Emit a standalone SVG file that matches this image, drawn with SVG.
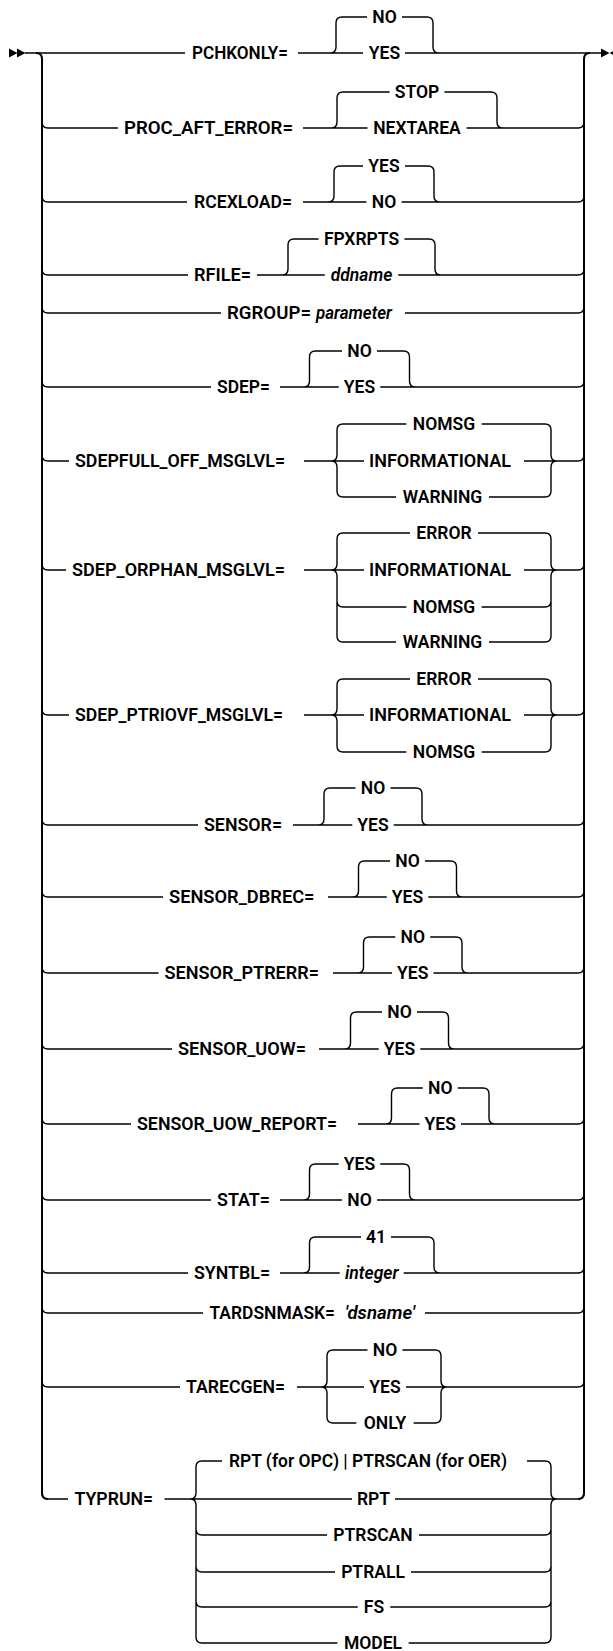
<svg xmlns="http://www.w3.org/2000/svg" width="613" height="1651" viewBox="0 0 613 1651">
<style>
.c{fill:none;stroke:#000;stroke-width:1.4}
.o{fill:none;stroke:#000;stroke-width:2}
text{font-family:Roboto,"Liberation Sans",sans-serif;font-weight:600;font-size:17.5px;fill:#000}
.m{text-anchor:middle}
.i{font-style:italic}
.a{fill:#000;stroke:none}
</style>
<rect width="613" height="1651" fill="#fff"/>
<g id="connectors">
<path class="o" d="M36,53 Q42,53 42,59 V1493 Q42,1499 48,1499"/>
<path class="o" d="M578,1499 Q584,1499 584,1493 V59 Q584,53 590,53"/>
<path class="c" d="M25,53 H185 M298,53 H363 M330,53 Q336,53 336,47 V23 Q336,17 342,17 H367 M402,17 H427 Q433,17 433,23 V47 Q433,53 439,53 M405,53 H601"/>
<path class="c" d="M42,122 Q42,128 48,128 H118 M303,128 H367.5 M331,128 Q337,128 337,122 V98 Q337,92 343,92 H389.6 M444.4,92 H491 Q497,92 497,98 V122 Q497,128 503,128 M466.5,128 H578 Q584,128 584,122"/>
<path class="c" d="M42,196 Q42,202 48,202 H187 M303,202 H366.5 M328,202 Q334,202 334,196 V172 Q334,166 340,166 H363 M405,166 H428 Q434,166 434,172 V196 Q434,202 440,202 M401.5,202 H578 Q584,202 584,196"/>
<path class="c" d="M42,269 Q42,275 48,275 H188 M257,275 H324.75 M282,275 Q288,275 288,269 V245 Q288,239 294,239 H318.6 M404.4,239 H429 Q435,239 435,245 V269 Q435,275 441,275 M398.25,275 H578 Q584,275 584,269"/>
<path class="c" d="M42,307 Q42,313 48,313 H221 M405,313 H578 Q584,313 584,307"/>
<path class="c" d="M42,381 Q42,387 48,387 H211 M280,387 H338.75 M303.5,387 Q309.5,387 309.5,381 V357 Q309.5,351 315.5,351 H342 M377,351 H403.5 Q409.5,351 409.5,357 V381 Q409.5,387 415.5,387 M380.25,387 H578 Q584,387 584,381"/>
<path class="c" d="M42,455 Q42,461 48,461 H69 M304,461 H364 M524,461 H578 Q584,461 584,455 M343,424 Q337,424 337,430 V455 Q337,461 331,461 Q337,461 337,467 V491 Q337,497 343,497 M545,424 Q551,424 551,430 V455 Q551,461 557,461 Q551,461 551,467 V491 Q551,497 545,497 M343,424 H406.35 M481.65,424 H545 M343,497 H396 M489,497 H545"/>
<path class="c" d="M42,564 Q42,570 48,570 H66 M304,570 H364 M524,570 H578 Q584,570 584,564 M343,533 Q337,533 337,539 V564 Q337,570 331,570 Q337,570 337,576 V636 Q337,642 343,642 M337,601 Q337,607 343,607 M545,533 Q551,533 551,539 V564 Q551,570 557,570 Q551,570 551,576 V636 Q551,642 545,642 M545,607 Q551,607 551,601 M343,533 H410 M478,533 H545 M343,607 H406.35 M481.65,607 H545 M343,642 H396 M489,642 H545"/>
<path class="c" d="M42,709 Q42,715 48,715 H69 M304,715 H364 M524,715 H578 Q584,715 584,709 M343,679 Q337,679 337,685 V709 Q337,715 331,715 Q337,715 337,721 V746 Q337,752 343,752 M545,679 Q551,679 551,685 V709 Q551,715 557,715 Q551,715 551,721 V746 Q551,752 545,752 M343,679 H410 M478,679 H545 M343,752 H406.35 M481.65,752 H545"/>
<path class="c" d="M42,819 Q42,825 48,825 H198 M293,825 H352.25 M318,825 Q324,825 324,819 V794 Q324,788 330,788 H355.5 M390.5,788 H416 Q422,788 422,794 V819 Q422,825 428,825 M393.75,825 H578 Q584,825 584,819"/>
<path class="c" d="M42,891 Q42,897 48,897 H163 M328,897 H386.75 M352.5,897 Q358.5,897 358.5,891 V867 Q358.5,861 364.5,861 H390 M425,861 H450.5 Q456.5,861 456.5,867 V891 Q456.5,897 462.5,897 M428.25,897 H578 Q584,897 584,891"/>
<path class="c" d="M42,967 Q42,973 48,973 H158.5 M333,973 H392 M357.5,973 Q363.5,973 363.5,967 V943 Q363.5,937 369.5,937 H395.25 M430.25,937 H456 Q462,937 462,943 V967 Q462,973 468,973 M433.5,973 H578 Q584,973 584,967"/>
<path class="c" d="M42,1043 Q42,1049 48,1049 H172 M319,1049 H378.75 M344.5,1049 Q350.5,1049 350.5,1043 V1018 Q350.5,1012 356.5,1012 H382 M417,1012 H442.5 Q448.5,1012 448.5,1018 V1043 Q448.5,1049 454.5,1049 M420.25,1049 H578 Q584,1049 584,1043"/>
<path class="c" d="M42,1118 Q42,1124 48,1124 H131 M358,1124 H419.5 M385.5,1124 Q391.5,1124 391.5,1118 V1094 Q391.5,1088 397.5,1088 H422.75 M457.75,1088 H483 Q489,1088 489,1094 V1118 Q489,1124 495,1124 M461,1124 H578 Q584,1124 584,1118"/>
<path class="c" d="M42,1194 Q42,1200 48,1200 H211 M280,1200 H342 M303.5,1200 Q309.5,1200 309.5,1194 V1170 Q309.5,1164 315.5,1164 H338.75 M380.25,1164 H403.5 Q409.5,1164 409.5,1170 V1194 Q409.5,1200 415.5,1200 M377,1200 H578 Q584,1200 584,1194"/>
<path class="c" d="M42,1267 Q42,1273 48,1273 H188 M280,1273 H339.75 M303.5,1273 Q309.5,1273 309.5,1267 V1243 Q309.5,1237 315.5,1237 H361 M391,1237 H428 Q434,1237 434,1243 V1267 Q434,1273 440,1273 M403.75,1273 H578 Q584,1273 584,1267"/>
<path class="c" d="M42,1307 Q42,1313 48,1313 H203 M425,1313 H578 Q584,1313 584,1307"/>
<path class="c" d="M42,1381 Q42,1387 48,1387 H180 M297,1387 H364 M333,1350 Q327,1350 327,1356 V1381 Q327,1387 321,1387 Q327,1387 327,1393 V1417 Q327,1423 333,1423 M435,1350 Q441,1350 441,1356 V1381 Q441,1387 447,1387 Q441,1387 441,1393 V1417 Q441,1423 435,1423 M333,1350 H367.5 M402.5,1350 H435 M406,1387 H578 Q584,1387 584,1381 M333,1423 H356.35 M413.65,1423 H435"/>
<path class="c" d="M42,1493 Q42,1499 48,1499 H68 M164.5,1499 H352 M395,1499 H578 Q584,1499 584,1493 M202,1461 Q196,1461 196,1467 V1493 Q196,1499 190,1499 Q196,1499 196,1505 V1637 Q196,1643 202,1643 M196,1529 Q196,1535 202,1535 M196,1566 Q196,1572 202,1572 M196,1601 Q196,1607 202,1607 M545,1461 Q551,1461 551,1467 V1493 Q551,1499 557,1499 Q551,1499 551,1505 V1637 Q551,1643 545,1643 M545,1535 Q551,1535 551,1529 M545,1572 Q551,1572 551,1566 M545,1607 Q551,1607 551,1601 M202,1461 H222 M527,1461 H545 M202,1535 H327 M419,1535 H545 M202,1572 H335 M411,1572 H545 M202,1607 H357.75 M390.25,1607 H545 M202,1643 H337.35 M408.65,1643 H545"/>
</g>
<g id="start"><path class="a" d="M9,48.5 L17.5,53 L9,57.5 Z M17,48.5 L25.5,53 L17,57.5 Z"/></g>
<g id="end"><path class="a" d="M601,48.5 L609.5,53 L601,57.5 Z M618,48.5 L609.5,53 L618,57.5 Z"/></g>
<g id="pchkonly"><text x="192" y="59" textLength="96" lengthAdjust="spacingAndGlyphs">PCHKONLY=</text><text class="m" x="384.5" y="23">NO</text><text class="m" x="384.5" y="59">YES</text></g>
<g id="proc_aft_error"><text x="124" y="134" textLength="169" lengthAdjust="spacingAndGlyphs">PROC_AFT_ERROR=</text><text class="m" x="417" y="98">STOP</text><text class="m" x="417" y="134">NEXTAREA</text></g>
<g id="rcexload"><text x="194" y="208" textLength="98" lengthAdjust="spacingAndGlyphs">RCEXLOAD=</text><text class="m" x="384" y="172">YES</text><text class="m" x="384" y="208">NO</text></g>
<g id="rfile"><text x="194" y="281" textLength="57" lengthAdjust="spacingAndGlyphs">RFILE=</text><text class="m" x="361.5" y="245">FPXRPTS</text><text class="m i" x="361.5" y="281">ddname</text></g>
<g id="rgroup"><text x="227" y="319" textLength="84" lengthAdjust="spacingAndGlyphs">RGROUP=</text><text class="i" x="316" y="319" textLength="76" lengthAdjust="spacingAndGlyphs">parameter</text></g>
<g id="sdep"><text x="217" y="393" textLength="53" lengthAdjust="spacingAndGlyphs">SDEP=</text><text class="m" x="359.5" y="357">NO</text><text class="m" x="359.5" y="393">YES</text></g>
<g id="sdepfull_off_msglvl"><text x="75" y="467" textLength="210" lengthAdjust="spacingAndGlyphs">SDEPFULL_OFF_MSGLVL=</text><text class="m" x="444" y="430">NOMSG</text><text class="m" x="440" y="467" textLength="142" lengthAdjust="spacingAndGlyphs">INFORMATIONAL</text><text class="m" x="442.5" y="503">WARNING</text></g>
<g id="sdep_orphan_msglvl"><text x="72" y="576" textLength="213" lengthAdjust="spacingAndGlyphs">SDEP_ORPHAN_MSGLVL=</text><text class="m" x="444" y="539">ERROR</text><text class="m" x="440" y="576" textLength="142" lengthAdjust="spacingAndGlyphs">INFORMATIONAL</text><text class="m" x="444" y="613">NOMSG</text><text class="m" x="442.5" y="648">WARNING</text></g>
<g id="sdep_ptriovf_msglvl"><text x="75" y="721" textLength="208" lengthAdjust="spacingAndGlyphs">SDEP_PTRIOVF_MSGLVL=</text><text class="m" x="444" y="685">ERROR</text><text class="m" x="440" y="721" textLength="142" lengthAdjust="spacingAndGlyphs">INFORMATIONAL</text><text class="m" x="444" y="758">NOMSG</text></g>
<g id="sensor"><text x="204" y="831" textLength="78" lengthAdjust="spacingAndGlyphs">SENSOR=</text><text class="m" x="373" y="794">NO</text><text class="m" x="373" y="831">YES</text></g>
<g id="sensor_dbrec"><text x="169" y="903" textLength="145.5" lengthAdjust="spacingAndGlyphs">SENSOR_DBREC=</text><text class="m" x="407.5" y="867">NO</text><text class="m" x="407.5" y="903">YES</text></g>
<g id="sensor_ptrerr"><text x="164.5" y="979" textLength="154.5" lengthAdjust="spacingAndGlyphs">SENSOR_PTRERR=</text><text class="m" x="412.75" y="943">NO</text><text class="m" x="412.75" y="979">YES</text></g>
<g id="sensor_uow"><text x="178" y="1055" textLength="128" lengthAdjust="spacingAndGlyphs">SENSOR_UOW=</text><text class="m" x="399.5" y="1018">NO</text><text class="m" x="399.5" y="1055">YES</text></g>
<g id="sensor_uow_report"><text x="137" y="1130" textLength="200" lengthAdjust="spacingAndGlyphs">SENSOR_UOW_REPORT=</text><text class="m" x="440.25" y="1094">NO</text><text class="m" x="440.25" y="1130">YES</text></g>
<g id="stat"><text x="217" y="1206" textLength="53" lengthAdjust="spacingAndGlyphs">STAT=</text><text class="m" x="359.5" y="1170">YES</text><text class="m" x="359.5" y="1206">NO</text></g>
<g id="syntbl"><text x="194" y="1279" textLength="76" lengthAdjust="spacingAndGlyphs">SYNTBL=</text><text class="m" x="376" y="1243">41</text><text class="m i" x="371.75" y="1279">integer</text></g>
<g id="tardsnmask"><text x="209.5" y="1319" textLength="125.5" lengthAdjust="spacingAndGlyphs">TARDSNMASK=</text><text class="i" x="345" y="1319" textLength="70" lengthAdjust="spacingAndGlyphs">'dsname'</text></g>
<g id="tarecgen"><text x="186" y="1393" textLength="99" lengthAdjust="spacingAndGlyphs">TARECGEN=</text><text class="m" x="385" y="1356">NO</text><text class="m" x="385" y="1393">YES</text><text class="m" x="385" y="1429">ONLY</text></g>
<g id="typrun"><text x="74.5" y="1505" textLength="78.5" lengthAdjust="spacingAndGlyphs">TYPRUN=</text><text x="229" y="1467" textLength="278" lengthAdjust="spacingAndGlyphs">RPT (for OPC) | PTRSCAN (for OER)</text><text class="m" x="373.5" y="1505">RPT</text><text class="m" x="373" y="1541">PTRSCAN</text><text class="m" x="373" y="1578">PTRALL</text><text class="m" x="374" y="1613">FS</text><text class="m" x="373" y="1649">MODEL</text></g>
</svg>
